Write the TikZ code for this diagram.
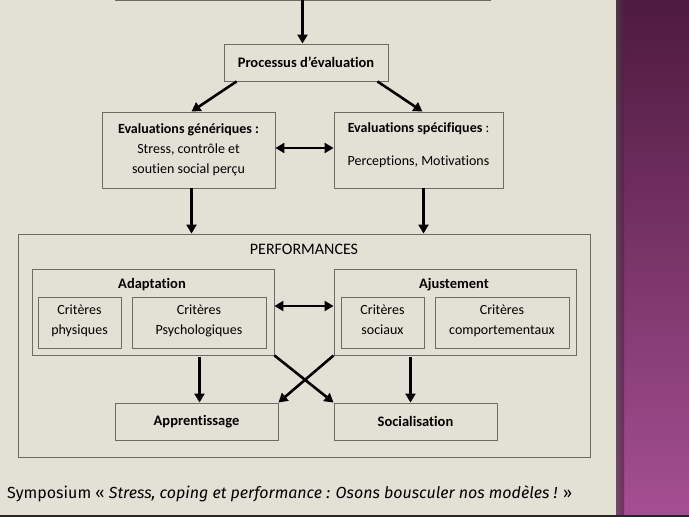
\documentclass[tikz,border=0pt]{standalone}
\usepackage{fontspec}
\setmainfont{Carlito}[Ligatures=NoCommon]
\newfontfamily\legende{Fira Sans}
\usetikzlibrary{arrows.meta,calc}
\definecolor{fond}{HTML}{E3E0D6}
\definecolor{trait}{HTML}{6E6B66}
\definecolor{violethaut}{HTML}{4E1A3F}
\definecolor{violetbas}{HTML}{A54F92}
\begin{document}
\begin{tikzpicture}[
    x=1pt, y=-1pt,
    % Réglages des boîtes et des flèches
    boite/.style={draw=trait, line width=0.9pt, inner sep=2pt, font=\fontsize{14}{20}\selectfont, align=center},
    critere/.style={boite, execute at end node=\strut},
    titre/.style={font=\bfseries\fontsize{14.5}{16}\selectfont},
    fleche/.style={line width=2.6pt, -{Triangle[length=9pt,width=10pt]}},
    double/.style={line width=2.6pt, {Triangle[length=9pt,width=10pt]}-{Triangle[length=9pt,width=10pt]}}
]
\useasboundingbox (0,0) rectangle (689,517);
\clip (0,0) rectangle (689,517);
% Fond
\fill[fond] (0,0) rectangle (616,517);
\shade[top color=violethaut, bottom color=violetbas] (616,0) rectangle (689,517);
\shade[left color=black!70, right color=violethaut, opacity=0.6] (616,0) rectangle (624,517);
\fill[black!85] (0,515) rectangle (689,517);
% Boîte du haut (coupée)
\node[boite, minimum width=375, minimum height=40] (haut) at (302.5,-20) {};
% Processus
\node[boite, titre, minimum width=164, minimum height=37] (proc) at (306,62.5) {Processus d’évaluation};
% Evaluations
\node[boite, minimum width=173, minimum height=76] (gen) at (188.5,150)
    {\textbf{Evaluations génériques :}\\Stress, contrôle et\\soutien social perçu};
\node[boite, minimum width=169, minimum height=76] (spe) at (418.5,150) {};
\node[align=center, font=\fontsize{14}{20}\selectfont] (spetexte) at (418.5,145)
    {\textbf{Evaluations spécifiques} :\\[13pt]Perceptions, Motivations};
% Performances
\node[boite, minimum width=572, minimum height=223] (perf) at (304,345.5) {};
\node[font=\fontsize{16}{18}\selectfont] (perftitre) at (304,249) {PERFORMANCES};
\node[boite, minimum width=242, minimum height=86] (adap) at (153,312) {};
\node[boite, minimum width=242, minimum height=86] (ajus) at (455,312) {};
\node[titre] (adaptitre) at (152,284.5) {Adaptation};
\node[titre] (ajustitre) at (454,284.5) {Ajustement};
\node[critere, minimum width=83, minimum height=51] (phys) at (79.5,322.5) {Critères\\physiques};
\node[critere, minimum width=134, minimum height=51] (psy) at (199,322.5) {Critères\\Psychologiques};
\node[critere, minimum width=83, minimum height=51] (soc) at (382.5,322.5) {Critères\\sociaux};
\node[critere, minimum width=134, minimum height=51] (comp) at (502,322.5) {Critères\\comportementaux};
\node[boite, titre, minimum width=163, minimum height=37] (app) at (196.5,421.5) {Apprentissage};
\node[boite, titre, minimum width=163, minimum height=37] (socia) at (415.5,421.5) {Socialisation};
% Points de départ des flèches verticales
\coordinate (gendep) at ($(gen.south)+(3,0)$);
\coordinate (spedep) at ($(spe.south)+(5,0)$);
\coordinate (appdep) at ($(app.north |- adap.south)+(3,2)$);
\coordinate (sociadep) at ($(socia.north |- ajus.south)+(-5,2)$);
% Flèches
\draw[fleche] (haut.south) -- (haut.south |- proc.north);
\draw[fleche] ($(proc.south west)+(13,0)$) -- ($(gen.north)+(3,0)$);
\draw[fleche] ($(proc.south east)+(-11,0)$) -- ($(spe.north)+(4,0)$);
\draw[double] ($(gen.east)+(0,-2)$) -- ($(spe.west)+(0,-2)$);
\draw[fleche] (gendep) -- (gendep |- perf.north);
\draw[fleche] (spedep) -- (spedep |- perf.north);
\draw[double] ($(adap.east)+(0,-6)$) -- ($(ajus.west)+(0,-6)$);
\draw[fleche] (appdep) -- (appdep |- app.north);
\draw[fleche] (sociadep) -- (sociadep |- socia.north);
\draw[fleche] (adap.south east) -- (socia.north west);
\draw[fleche] (ajus.south west) -- (app.north east);
% Légende
\node[anchor=west, font=\legende\fontsize{16}{18}\selectfont, inner sep=0pt] (legende) at (7,494)
    {Symposium « \textit{Stress, coping et performance : Osons bousculer nos modèles !} »};
\end{tikzpicture}
\end{document}
